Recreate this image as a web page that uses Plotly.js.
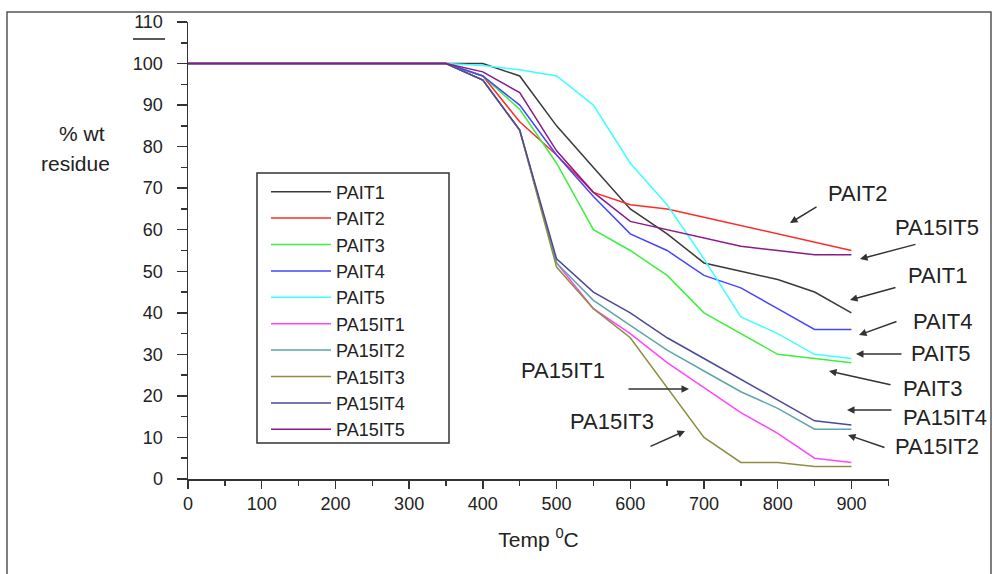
<!DOCTYPE html>
<html>
<head>
<meta charset="utf-8">
<script src="https://cdn.plot.ly/plotly-3.0.1.min.js"></script>
<style>
html,body{margin:0;padding:0;background:#fff;}
#chart{width:992px;height:574px;}
</style>
</head>
<body>
<div id="chart"></div>
<script>
// Temperature (°C)
const temps = [0, 350, 400, 450, 500, 550, 600, 650, 700, 750, 800, 850, 900];

// % wt residue per sample
const PAIT1   = [100, 100, 100, 97, 85, 75, 65, 59, 52, 50, 48, 45, 40];
const PAIT2   = [100, 100, 97, 86, 78, 69, 66, 65, 63, 61, 59, 57, 55];
const PAIT3   = [100, 100, 97, 89, 76, 60, 55, 49, 40, 35, 30, 29, 28];
const PAIT4   = [100, 100, 97, 90, 78, 68, 59, 55, 49, 46, 41, 36, 36];
const PAIT5   = [100, 100, 99.5, 98.5, 97, 90, 76, 66, 53, 39, 35, 30, 29];
const PA15IT1 = [100, 100, 96, 84, 52, 41, 35, 28, 22, 16, 11, 5, 4];
const PA15IT2 = [100, 100, 96, 84, 52, 43, 37, 31, 26, 21, 17, 12, 12];
const PA15IT3 = [100, 100, 96, 84, 51, 41, 34, 22, 10, 4, 4, 3, 3];
const PA15IT4 = [100, 100, 96, 84, 53, 45, 40, 34, 29, 24, 19, 14, 13];
const PA15IT5 = [100, 100, 98, 93, 79, 69, 62, 60, 58, 56, 55, 54, 54];

const seriesNames = ["PAIT1","PAIT2","PAIT3","PAIT4","PAIT5","PA15IT1","PA15IT2","PA15IT3","PA15IT4","PA15IT5"];
const seriesValues = [PAIT1, PAIT2, PAIT3, PAIT4, PAIT5, PA15IT1, PA15IT2, PA15IT3, PA15IT4, PA15IT5];
const seriesColors = ["#3a3a3a","#ff2a2a","#3cf03c","#4545ff","#3cffff","#ff45ff","#5fa6a6","#8e8e40","#4a4a98","#8a1a8a"];

const xTickVals = [0,100,200,300,400,500,600,700,800,900];
const xTickText = ["0","100","200","300","400","500","600","700","800","900"];
const yTickVals = [0,10,20,30,40,50,60,70,80,90,100,110];
const yTickText = ["0","10","20","30","40","50","60","70","80","90","100","110"];

// callout labels: [text, textX, textY, arrowHeadX, arrowHeadY, arrowTailX, arrowTailY] in page pixels
const callouts = [
  ["PAIT2",   858, 193, 790, 223, 818, 206],
  ["PA15IT5", 937, 227, 860, 259, 917, 244],
  ["PAIT1",   938, 275, 850, 300, 897, 287],
  ["PAIT4",   943, 321, 859, 335, 898, 321],
  ["PAIT5",   941, 353, 856, 354, 903, 354],
  ["PAIT3",   933, 388, 829, 371, 892, 385],
  ["PA15IT4", 945, 417, 847, 410, 893, 410],
  ["PA15IT2", 937, 446, 848, 435, 886, 448],
  ["PA15IT1", 563, 370, 689, 389, 627, 389],
  ["PA15IT3", 612, 421, 685, 431, 649, 447]
];

const ML = 188, MT = 22, PW = 701, PH = 457;
const px = v => (v - ML) / PW;
const py = v => (MT + PH - v) / PH;

const FONT = "Liberation Sans, Arial, sans-serif";

const traces = seriesNames.map((n, i) => ({
  x: temps, y: seriesValues[i], name: n, type: "scatter", mode: "lines",
  line: {color: seriesColors[i], width: 1.5},
  legendgroup: n
}));

const annotations = [];
callouts.forEach(c => {
  annotations.push({xref:"paper", yref:"paper", x: px(c[1]), y: py(c[2]), text: c[0],
    showarrow:false, xanchor:"center", yanchor:"middle",
    font:{family:FONT, size:22, color:"#222"}});
  annotations.push({xref:"paper", yref:"paper", x: px(c[3]), y: py(c[4]), text: "",
    showarrow:true, axref:"pixel", ayref:"pixel", ax: c[5]-c[3], ay: c[6]-c[4],
    arrowhead:2, arrowsize:1, arrowwidth:1.5, arrowcolor:"#333"});
});
annotations.push({xref:"paper", yref:"paper", x: px(82), y: py(133), text:"% wt",
  showarrow:false, xanchor:"center", yanchor:"middle", font:{family:FONT, size:21, color:"#222"}});
annotations.push({xref:"paper", yref:"paper", x: px(75), y: py(163), text:"residue",
  showarrow:false, xanchor:"center", yanchor:"middle", font:{family:FONT, size:21, color:"#222"}});

const shapes = [
  {type:"rect", xref:"paper", yref:"paper", x0:px(7), x1:px(991), y0:py(580), y1:py(12),
   line:{color:"#555", width:1.5}, layer:"above"},
  {type:"rect", xref:"paper", yref:"paper", x0:px(257), x1:px(449), y0:py(443), y1:py(173),
   line:{color:"#333", width:1.5}, layer:"above"},
  {type:"line", xref:"paper", yref:"paper", x0:px(133), x1:px(165), y0:py(39), y1:py(39),
   line:{color:"#222", width:1.5}, layer:"above"}
];

const layout = {
  width: 992, height: 574,
  margin: {l: ML, r: 992 - ML - PW, t: MT, b: 574 - MT - PH, pad: 0},
  paper_bgcolor: "#fff", plot_bgcolor: "#fff",
  font: {family: FONT, color: "#222"},
  showlegend: true,
  legend: {x: px(266), y: py(173.5), xanchor:"left", yanchor:"top",
    bgcolor:"rgba(0,0,0,0)", borderwidth:0, itemwidth:60,
    font:{family:FONT, size:18, color:"#222"}, traceorder:"normal"},
  xaxis: {
    range: [0, 951], tickmode:"array", tickvals: xTickVals, ticktext: xTickText,
    showgrid:false, zeroline:false, showline:true, linecolor:"#333", linewidth:1.5,
    ticks:"outside", ticklen:8, tickwidth:1.5, tickcolor:"#333",
    minor:{dtick:50, ticks:"outside", ticklen:5, tickwidth:1.5, tickcolor:"#333", showgrid:false},
    tickfont:{family:FONT, size:18, color:"#222"},
    title:{text:"Temp <sup>0</sup>C", font:{family:FONT, size:21, color:"#222"}, standoff:19}
  },
  yaxis: {
    range: [0, 110], tickmode:"array", tickvals: yTickVals, ticktext: yTickText,
    showgrid:false, zeroline:false, showline:true, linecolor:"#333", linewidth:1.5,
    ticks:"outside", ticklen:10, tickwidth:1.5, tickcolor:"#333",
    minor:{dtick:5, ticks:"outside", ticklen:6, tickwidth:1.5, tickcolor:"#333", showgrid:false},
    tickfont:{family:FONT, size:18, color:"#222"},
    ticklabelstandoff: 10
  },
  annotations: annotations,
  shapes: shapes
};

Plotly.newPlot("chart", traces, layout, {displayModeBar:false, staticPlot:true});
</script>
</body>
</html>
